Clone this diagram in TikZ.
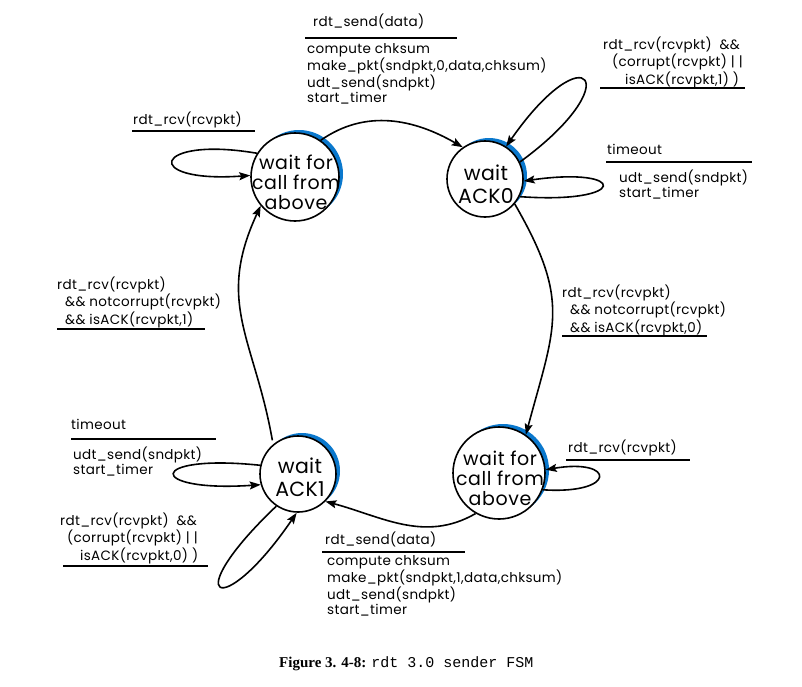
\documentclass[tikz,border=0pt]{standalone}
\usepackage{fontspec}
\setmainfont{Poppins}
\newfontfamily\capserif{Liberation Serif}
\newfontfamily\capmono{Liberation Mono}
\usetikzlibrary{arrows.meta,calc}
\definecolor{crescentblue}{RGB}{10,120,205}
\tikzset{
  state/.style={circle, draw, line width=1.6pt, fill=white, inner sep=0pt, minimum size=#1},
  statetext/.style={align=center, inner sep=0pt, font=\fontsize{19}{20}\selectfont\addfontfeature{LetterSpace=3}},
  acktext/.style={align=center, inner sep=0pt, font=\fontsize{20.5}{23}\selectfont\addfontfeature{LetterSpace=1.5}},
  crescent/.style={fill=crescentblue},
  lbl/.style={anchor=north west, inner sep=0pt, align=left, font=\fontsize{13.5}{15}\selectfont\addfontfeature{LetterSpace=2.5}},
  rulebar/.style={line width=2.2pt},
  arr/.style={-{Stealth[length=11pt,width=8pt,inset=2pt]}, line width=1.6pt},
}
\begin{document}
\begin{tikzpicture}[x=1pt,y=-1pt]
\useasboundingbox (0,0) rectangle (802,686);
% state centres
\coordinate (cA) at (295,177);
\coordinate (cB) at (485,179);
\coordinate (cC) at (298,474);
\coordinate (cD) at (499,473);
% blue crescents
\fill[crescent] ($(cA)+(4,-3)$) circle[radius=44];
\fill[crescent] ($(cB)+(4,-3)$) circle[radius=38];
\fill[crescent] ($(cC)+(4,-3)$) circle[radius=38];
\fill[crescent] ($(cD)+(4,-3)$) circle[radius=46];
% states
\node[state=88pt] (A) at (cA) {};
\node[state=76pt] (B) at (cB) {};
\node[state=76pt] (C) at (cC) {};
\node[state=92pt] (D) at (cD) {};
\node[statetext] (At) at (296,182) {wait for\\call from\\above};
\node[acktext] (Bt) at (486,184) {wait\\ACK0};
\node[acktext] (Ct) at (300,477) {wait\\ACK1};
\node[statetext] (Dt) at (500,478) {wait for\\call from\\above};
% transitions between states
\draw[arr] (A.55) to[out=35,in=150] (B.125);
\draw[arr] (B.-40) to[out=-60,in=75,looseness=1.25] (D.55);
\draw[arr] (D.-120) to[out=-150,in=-15] (C.-45);
\draw[arr,shorten <=4pt] (C.130) to[out=100,in=-115,looseness=1.15] (A.-140);
% self loops
\draw[arr] (A.148) .. controls +(-105,-18) and +(-110,8) .. (A.178);
\draw[arr] (B.26) .. controls +(110,-80) and +(80,-115) .. (B.57);
\draw[arr] (B.-27) .. controls +(110,8) and +(105,-15) .. (B.-3);
\draw[arr] (C.167) .. controls +(-115,-12) and +(-115,8) .. (C.196);
\draw[arr] (C.236) .. controls +(-100,95) and +(-75,110) .. (C.268);
\draw[arr] (D.-21) .. controls +(75,5) and +(70,-12) .. (D.4);
% labels: top
\node[lbl] (l1e) at (313,14) {rdt\_send(data)};
\draw[rulebar] (305,38) -- (457,38);
\node[lbl] (l1a) at (307,43) {compute chksum\\make\_pkt(sndpkt,0,data,chksum)\\udt\_send(sndpkt)\\start\_timer};
% top right
\node[lbl] (l2e) at (603,37) {rdt\_rcv(rcvpkt)\ \ \&\&\\\hspace*{9pt}(corrupt(rcvpkt) | |\\\hspace*{22pt}isACK(rcvpkt,1) )};
\draw[rulebar] (600,88) -- (745,88);
% timeout right
\node[lbl] (l3e) at (607,144) {timeout};
\draw[rulebar] (606,162) -- (752,162);
\node[lbl] (l3a) at (619,170) {udt\_send(sndpkt)\\start\_timer};
% top left
\node[lbl] (l4e) at (133,112) {rdt\_rcv(rcvpkt)};
\draw[rulebar] (132,131) -- (255,131);
% left middle
\node[lbl] (l5e) at (57,277) {rdt\_rcv(rcvpkt)\\\hspace*{8pt}\&\& notcorrupt(rcvpkt)\\\hspace*{8pt}\&\& isACK(rcvpkt,1)};
\draw[rulebar] (57,329) -- (205,329);
% right middle
\node[lbl] (l6e) at (562,285) {rdt\_rcv(rcvpkt)\\\hspace*{8pt}\&\& notcorrupt(rcvpkt)\\\hspace*{8pt}\&\& isACK(rcvpkt,0)};
\draw[rulebar] (562,336) -- (707,336);
% timeout left
\node[lbl] (l7e) at (71,419) {timeout};
\draw[rulebar] (71,439) -- (216,439);
\node[lbl] (l7a) at (73,447) {udt\_send(sndpkt)\\start\_timer};
% bottom left
\node[lbl] (l8e) at (60,513) {rdt\_rcv(rcvpkt)\ \ \&\&\\\hspace*{7pt}(corrupt(rcvpkt) | |\\\hspace*{20pt}isACK(rcvpkt,0) )};
\draw[rulebar] (63,566) -- (208,566);
% bottom right
\node[lbl] (l9e) at (568,440) {rdt\_rcv(rcvpkt)};
\draw[rulebar] (566,460) -- (690,460);
% bottom
\node[lbl] (l10e) at (325,532) {rdt\_send(data)};
\draw[rulebar] (322,552) -- (465,552);
\node[lbl] (l10a) at (327,555) {compute chksum\\make\_pkt(sndpkt,1,data,chksum)\\udt\_send(sndpkt)\\start\_timer};
% caption
\node[anchor=base west, inner sep=0pt] (cap) at (279,667) {\fontsize{15}{18}\selectfont\capserif\bfseries Figure 3. 4-8: \capmono\mdseries rdt 3.0 sender FSM};
\end{tikzpicture}
\end{document}
